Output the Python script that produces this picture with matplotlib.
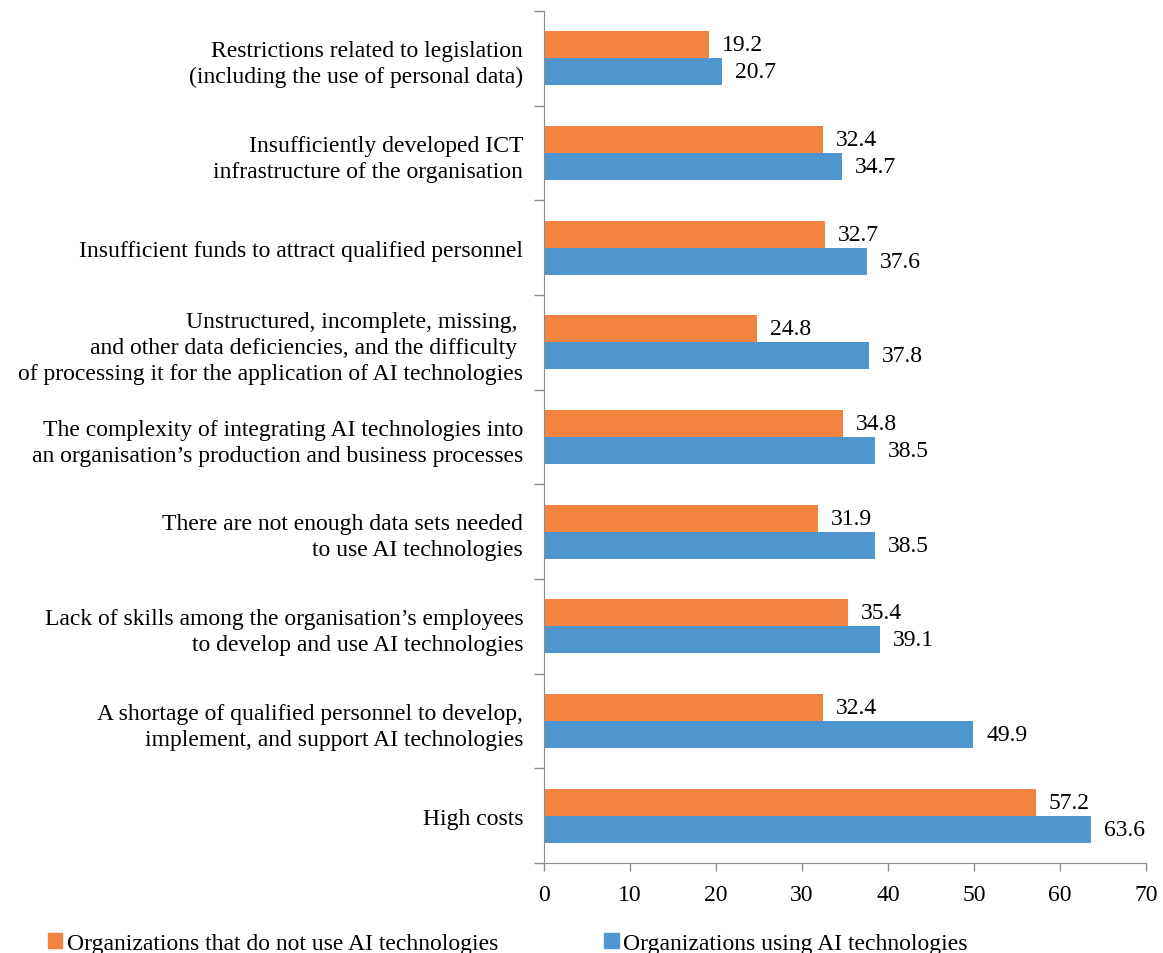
import matplotlib.pyplot as plt
from matplotlib.patches import Patch
from matplotlib.ticker import FixedLocator

plt.rcParams['font.family'] = ['Liberation Serif', 'DejaVu Serif']
plt.rcParams['font.size'] = 17

# barriers, listed from top to bottom
categories = [
    'Restrictions related to legislation\n(including the use of personal data)',
    'Insufficiently developed ICT\ninfrastructure of the organisation',
    'Insufficient funds to attract qualified personnel',
    'Unstructured, incomplete, missing, \nand other data deficiencies, and the difficulty \nof processing it for the application of AI technologies',
    'The complexity of integrating AI technologies into\nan organisation\u2019s production and business processes',
    'There are not enough data sets needed\nto use AI technologies',
    'Lack of skills among the organisation\u2019s employees\nto develop and use AI technologies',
    'A shortage of qualified personnel to develop,\nimplement, and support AI technologies',
    'High costs',
]
not_using = [19.2, 32.4, 32.7, 24.8, 34.8, 31.9, 35.4, 32.4, 57.2]
using = [20.7, 34.7, 37.6, 37.8, 38.5, 38.5, 39.1, 49.9, 63.6]
series_names = ['Organizations that do not use AI technologies',
                'Organizations using AI technologies']

orange = '#F2843F'
blue = '#4F96D1'
axis_grey = '#8C8C8C'

fig = plt.figure(figsize=(11.63, 9.54), dpi=100)
ax = fig.add_axes([0.4678, 0.0943, 0.5176, 0.8931])

h = 0.285
pos = list(range(len(categories)))
ax.barh([p - h / 2 for p in pos], not_using, height=h, color=orange)
ax.barh([p + h / 2 for p in pos], using, height=h, color=blue)

for p, v in zip(pos, not_using):
    ax.text(v + 1.5, p - h / 2, f'{v:.1f}', va='center', ha='left')
for p, v in zip(pos, using):
    ax.text(v + 1.5, p + h / 2, f'{v:.1f}', va='center', ha='left')

ax.set_ylim(len(categories) - 0.5, -0.5)
ax.set_xlim(0, 70)
ax.set_xticks(range(0, 71, 10))

ax.set_yticks(pos)
ax.set_yticklabels(categories, linespacing=1.33)
ax.yaxis.set_minor_locator(FixedLocator([p - 0.5 for p in range(len(categories) + 1)]))
ax.tick_params(axis='y', which='major', length=0, pad=15)
ax.tick_params(axis='y', which='minor', length=7, color=axis_grey, width=1)
ax.tick_params(axis='x', length=6, color=axis_grey, width=1, pad=9)

for side in ['top', 'right']:
    ax.spines[side].set_visible(False)
for side in ['left', 'bottom']:
    ax.spines[side].set_color(axis_grey)

handles = [Patch(color=orange), Patch(color=blue)]
fig.legend(handles, series_names, loc='center left', bbox_to_anchor=(0.033, 0.010),
           ncol=2, frameon=False, handlelength=0.6, handleheight=0.6,
           handletextpad=0.2, columnspacing=4.5, borderaxespad=0)

fig.savefig('out.png', dpi=100)
